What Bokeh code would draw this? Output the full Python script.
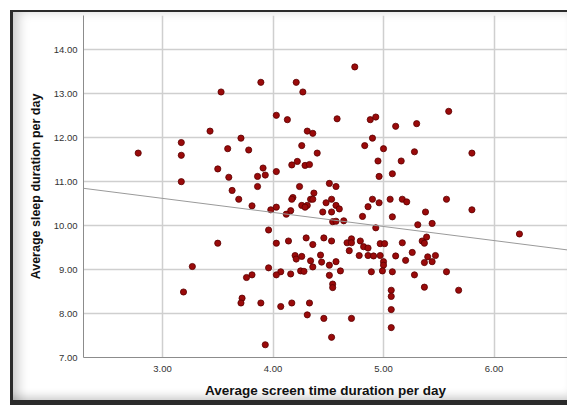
from bokeh.plotting import figure
from bokeh.models import Range1d, FixedTicker, NumeralTickFormatter, Slope
from bokeh.embed import file_html
from bokeh.resources import INLINE

# Average screen time duration per day (x) and average sleep duration per day (y)
screen_time = [
    4.74, 3.89, 4.21, 3.53, 4.27, 4.03, 4.13, 4.58, 4.88, 4.93,
    3.43, 3.71, 4.31, 4.36, 4.90, 4.83, 3.59, 3.78, 4.26, 4.40,
    4.22, 4.17, 4.29, 4.33, 4.95, 3.50, 3.91, 3.60, 3.86, 3.93,
    4.03, 4.96, 4.51, 4.57, 4.24, 3.86, 3.63, 4.37, 4.18, 4.17,
    4.34, 4.36, 4.53, 4.90, 4.96, 3.69, 4.48, 3.81, 4.26, 4.31,
    4.29, 4.57, 4.60, 4.03, 3.98, 4.16, 4.12, 4.45, 4.53, 4.81,
    4.86, 4.54, 4.57, 4.64, 4.93, 3.96, 3.50, 4.03, 4.14, 4.30,
    4.36, 4.46, 4.53, 4.67, 4.71, 4.71, 4.79, 4.82, 4.86, 4.69,
    4.97, 5.01, 5.17, 5.35, 5.39, 5.37, 4.20, 4.21, 4.26, 4.34,
    4.43, 4.44, 4.57, 4.51, 4.36, 4.78, 4.86, 4.91, 4.97, 5.00,
    5.00, 5.11, 5.26, 5.20, 5.40, 5.47, 5.37, 5.44, 3.27, 3.96,
    4.25, 4.28, 4.07, 4.03, 4.16, 4.61, 4.51, 4.89, 4.99, 5.08,
    5.28, 5.57, 3.81, 3.76, 4.54, 4.54, 3.19, 3.72, 3.71, 3.89,
    4.17, 4.33, 4.07, 4.31, 4.46, 4.71, 4.53, 3.93, 2.78, 3.17,
    3.17, 3.17, 5.59, 5.11, 5.30, 5.00, 5.28, 5.80, 5.16, 5.08,
    5.06, 5.17, 5.21, 5.57, 5.80, 5.08, 5.38, 5.31, 5.44, 6.23,
    5.37, 5.68, 5.07, 5.07, 5.07, 5.07,
]
sleep_time = [
    13.61, 13.26, 13.26, 13.04, 13.04, 12.51, 12.41, 12.43, 12.41, 12.47,
    12.15, 11.99, 12.15, 12.10, 11.99, 11.82, 11.75, 11.72, 11.82, 11.65,
    11.46, 11.38, 11.37, 11.39, 11.47, 11.29, 11.31, 11.10, 11.12, 11.15,
    11.23, 11.12, 10.96, 10.89, 10.89, 10.89, 10.80, 10.74, 10.64, 10.60,
    10.60, 10.60, 10.60, 10.60, 10.52, 10.60, 10.52, 10.45, 10.46, 10.46,
    10.42, 10.46, 10.38, 10.42, 10.36, 10.34, 10.26, 10.31, 10.31, 10.21,
    10.43, 10.09, 10.10, 10.11, 9.95, 9.90, 9.60, 9.60, 9.65, 9.72,
    9.57, 9.72, 9.65, 9.61, 9.70, 9.61, 9.65, 9.52, 9.49, 9.43,
    9.59, 9.59, 9.61, 9.65, 9.74, 9.60, 9.32, 9.24, 9.30, 9.20,
    9.33, 9.17, 9.18, 9.10, 9.06, 9.32, 9.32, 9.31, 9.32, 9.18,
    9.10, 9.31, 9.39, 9.21, 9.29, 9.32, 9.16, 9.18, 9.07, 9.04,
    8.97, 8.96, 8.95, 8.88, 8.90, 8.97, 8.87, 8.95, 8.97, 8.95,
    8.88, 8.95, 8.88, 8.82, 8.67, 8.59, 8.49, 8.35, 8.24, 8.24,
    8.24, 8.24, 8.16, 7.97, 7.89, 7.89, 7.46, 7.29, 11.65, 11.89,
    11.60, 11.00, 12.60, 12.26, 12.32, 11.75, 11.68, 11.65, 11.47, 11.18,
    10.60, 10.60, 10.54, 10.60, 10.36, 10.20, 10.31, 10.02, 10.05, 9.81,
    8.60, 8.53, 8.53, 8.39, 8.09, 7.68,
]

# Linear fit line
fit_intercept = 11.58
fit_slope = -0.32

x_ticks = [3.0, 4.0, 5.0, 6.0]
y_ticks = [7.0, 8.0, 9.0, 10.0, 11.0, 12.0, 13.0, 14.0]

x_title = "Average screen time duration per day"
y_title = "Average sleep duration per day"

p = figure(
    width=567, height=405,
    output_backend="svg", toolbar_location=None,
    x_range=Range1d(2.285, 6.665), y_range=Range1d(7.0, 14.78),
    min_border_left=83, min_border_right=0, min_border_top=15, min_border_bottom=48,
)
p.border_fill_color = None
p.background_fill_color = None
p.outline_line_color = None
p.styles = {
    "background-color": "white",
    "box-shadow": (
        "inset 10px 10px 0 0 #ffffff, "
        "inset 13px 12px 0 0 #2b2b2b, "
        "inset 0 -5px 0 0 #2b2b2b, "
        "inset 24px 16px 12px -6px rgba(0,0,0,0.22), "
        "inset 0 -14px 10px -6px rgba(0,0,0,0.22)"
    ),
}

p.xaxis.ticker = FixedTicker(ticks=x_ticks)
p.yaxis.ticker = FixedTicker(ticks=y_ticks)
p.axis.formatter = NumeralTickFormatter(format="0.00")
p.axis.major_tick_line_color = None
p.axis.minor_tick_line_color = None
p.axis.major_tick_in = 0
p.axis.major_tick_out = 0
p.axis.minor_tick_in = 0
p.axis.minor_tick_out = 0
p.axis.axis_line_color = "#8c8c8c"
p.axis.axis_line_width = 1
p.axis.major_label_text_font = "Liberation Sans"
p.axis.major_label_text_font_size = "9.5px"
p.axis.major_label_text_color = "#333333"
p.xaxis.major_label_standoff = 8
p.yaxis.major_label_standoff = 6
p.xaxis.axis_label = x_title
p.yaxis.axis_label = y_title
p.axis.axis_label_text_font = "Liberation Sans"
p.axis.axis_label_text_font_style = "bold"
p.xaxis.axis_label_text_font_size = "13.5px"
p.yaxis.axis_label_text_font_size = "12.5px"
p.axis.axis_label_text_color = "#111111"
p.xaxis.axis_label_standoff = 8
p.yaxis.axis_label_standoff = 8

p.grid.grid_line_color = "#cfcfcf"
p.grid.grid_line_width = 1.5

p.add_layout(Slope(gradient=fit_slope, y_intercept=fit_intercept,
                   line_color="#9a9a9a", line_width=1))

p.scatter(screen_time, sleep_time, size=6.2, fill_color="#9a0a0a",
          line_color="#5a0000", line_width=0.8)

open("out.html", "w").write(file_html(p, INLINE))
